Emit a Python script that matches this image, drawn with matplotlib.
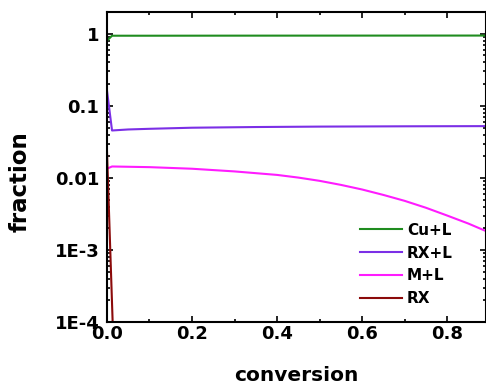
import numpy as np
import matplotlib.pyplot as plt
from matplotlib.ticker import MultipleLocator, LogLocator, NullFormatter

plt.rcParams['font.family'] = ['DejaVu Sans']
plt.rcParams['font.weight'] = 'bold'

# conversion values and phase fractions
x_cu = [0.0, 0.012, 0.1, 0.3, 0.5, 0.7, 0.89]
cu_l = [0.80, 0.94, 0.94, 0.942, 0.943, 0.944, 0.945]

x_rx = [0.0, 0.012, 0.05, 0.1, 0.2, 0.35, 0.5, 0.7, 0.89]
rx_l = [0.166, 0.0455, 0.047, 0.048, 0.0497, 0.0508, 0.0515, 0.052, 0.0523]

x_m = [0.0, 0.012, 0.1, 0.2, 0.3, 0.4, 0.45, 0.5, 0.55, 0.6, 0.65, 0.7, 0.75, 0.8, 0.85, 0.89]
m_l = [0.0134, 0.0144, 0.0141, 0.0134, 0.0123, 0.0110, 0.0101, 0.0091, 0.0080, 0.0069, 0.0058,
       0.0048, 0.00385, 0.0030, 0.00232, 0.00184]

x_r = [0.0, 0.014]
rx = [0.025, 8e-5]

yticks = [1e-4, 1e-3, 1e-2, 1e-1, 1]
ylabels = ['1E-4', '1E-3', '0.01', '0.1', '1']

fig = plt.figure(figsize=(4.86, 3.85), dpi=100)
ax = fig.add_axes([0.220, 0.1636, 0.779, 0.805])

ax.plot(x_cu, cu_l, color='#1f8c1f', lw=1.5, label='Cu+L')
ax.plot(x_rx, rx_l, color='#7b2fe6', lw=1.5, label='RX+L')
ax.plot(x_m, m_l, color='#ff1cff', lw=1.5, label='M+L')
ax.plot(x_r, rx, color='#8b0a0a', lw=1.5, label='RX')

ax.set_yscale('log')
ax.set_xlim(0, 0.89)
ax.set_ylim(1e-4, 2)
ax.set_yticks(yticks)
ax.set_yticklabels(ylabels)
ax.yaxis.set_minor_locator(LogLocator(base=10, subs=np.arange(2, 10)))
ax.yaxis.set_minor_formatter(NullFormatter())
ax.set_xticks([0, 0.2, 0.4, 0.6, 0.8])
ax.set_xticklabels(['0.0', '0.2', '0.4', '0.6', '0.8'])
ax.xaxis.set_minor_locator(MultipleLocator(0.1))

ax.tick_params(which='both', direction='in', top=True, right=True, width=1.2)
ax.tick_params(which='major', length=4, labelsize=13)
ax.tick_params(which='minor', length=2)
ax.tick_params(axis='x', which='major', pad=2)
ax.tick_params(axis='y', which='major', pad=5.5)
for s in ax.spines.values():
    s.set_linewidth(1.5)

ax.set_xlabel('conversion', fontsize=14.5, fontweight='bold', labelpad=16.5)
ax.set_ylabel('fraction', fontsize=16.5, fontweight='bold')
ax.yaxis.set_label_coords(-0.2, 0.452)

ax.legend(loc='upper left', bbox_to_anchor=(0.649, 0.345), frameon=False,
          fontsize=11, borderpad=0, handlelength=2.75, handletextpad=0.3,
          labelspacing=0.51)

fig.savefig('out.png', dpi=100)
